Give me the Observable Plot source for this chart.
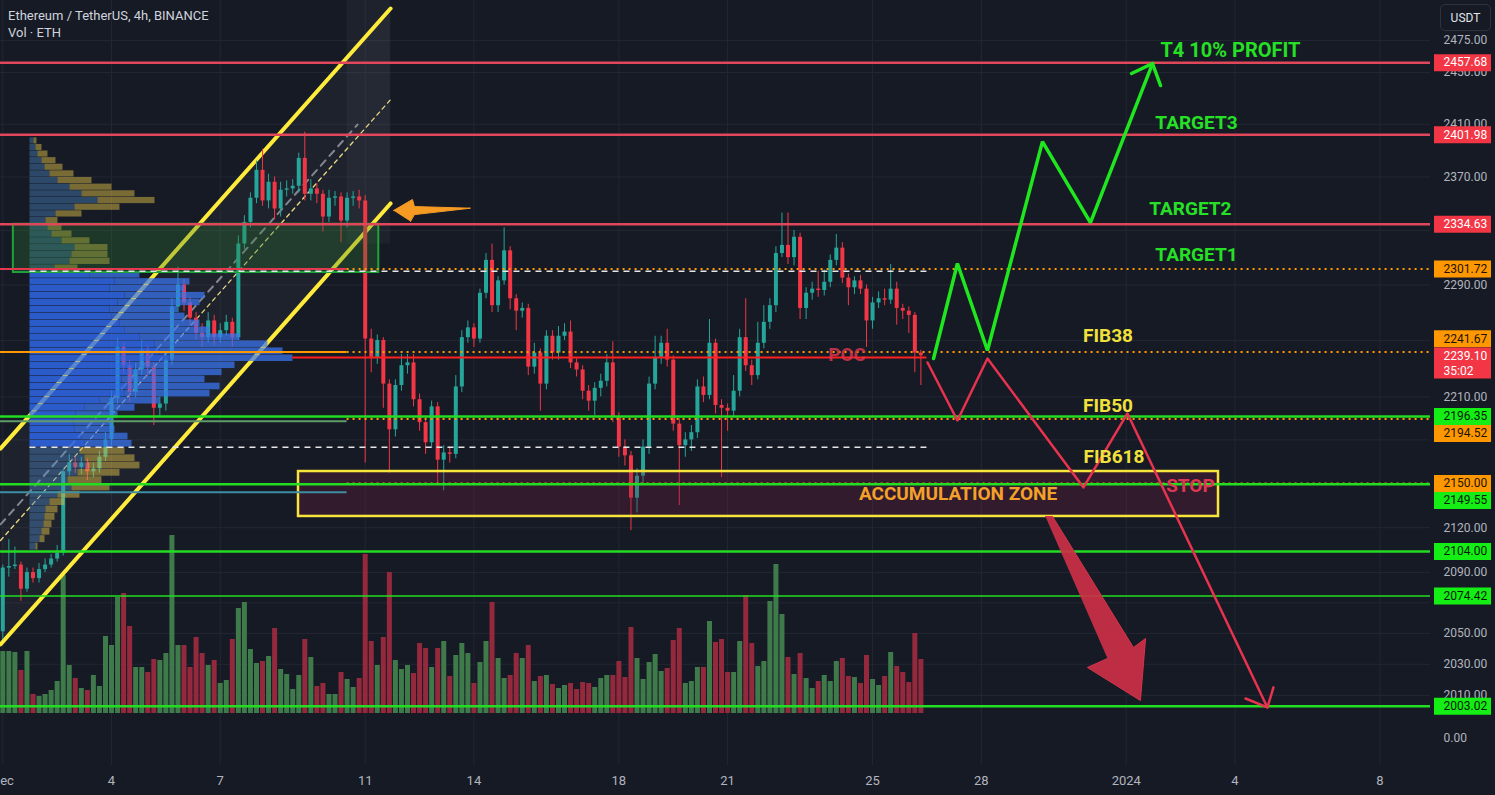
<!DOCTYPE html>
<html>
<head>
<meta charset="utf-8">
<script src="https://cdn.jsdelivr.net/npm/d3@7"></script>
<script src="https://cdn.jsdelivr.net/npm/@observablehq/plot@0.6"></script>
<style>
  html, body { margin: 0; padding: 0; background: #161a25; }
  #chart { position: relative; width: 1495px; height: 795px; background: #161a25; overflow: hidden; font-family: Roboto, "Noto Sans", sans-serif; }
  #chart svg { position: absolute; left: 0; top: 0; }
  .legend { position: absolute; left: 8px; color: #d1d4dc; font-size: 13px; white-space: nowrap; z-index: 10; }
  .usdt { position: absolute; left: 1440px; top: 4px; width: 51px; height: 27px; box-sizing: border-box; border: 1px solid #2e323d; border-radius: 5px; color: #e1e3ea; font-size: 12px; display: flex; align-items: center; justify-content: center; background: #161a25; z-index: 10; }
</style>
</head>
<body>
<div id="chart"></div>
<script>
// ---------------- DATA ----------------
const firstBarTime = "2023-12-01T00:00Z";   // 4h candles
const firstOpen = 2051;
const candleClose = [
2093,2094,2095,2079,2090,2086,2092,2095,2099,2103,
2158,2164,2161,2164,2158,2160,2168,2180,2209,2245,
2232,2213,2229,2243,2231,2202,2205,2236,2274,2290,
2277,2266,2255,2252,2264,2252,2257,2263,2252,2320,
2336,2354,2375,2352,2366,2346,2360,2361,2363,2384,
2357,2361,2357,2340,2354,2355,2337,2354,2355,2352,
2251,2238,2250,2219,2187,2218,2232,2234,2208,2192,
2178,2203,2166,2171,2170,2217,2252,2259,2251,2284,
2308,2275,2293,2315,2280,2271,2273,2231,2241,2219,
2253,2241,2253,2256,2234,2229,2214,2207,2216,2221,
2234,2196,2175,2169,2140,2155,2175,2219,2238,2248,
2236,2191,2176,2180,2185,2217,2211,2248,2204,2202,
2200,2214,2252,2232,2225,2248,2263,2275,2313,2319,
2310,2325,2273,2284,2287,2286,2292,2308,2317,2295,
2288,2293,2287,2264,2277,2280,2279,2287,2273,2271,
2268,2241,2239.10];
const candleHigh = [
2095,2112,2107,2097,2093,2093,2096,2099,2102,2108,
2160,2170,2168,2168,2167,2164,2172,2185,2214,2252,
2248,2236,2234,2250,2246,2234,2210,2240,2280,2303,
2294,2281,2270,2262,2270,2268,2262,2268,2266,2326,
2341,2358,2382,2391,2372,2370,2366,2367,2368,2388,
2404,2368,2365,2360,2360,2359,2358,2358,2359,2360,
2356,2258,2254,2252,2222,2222,2240,2240,2240,2212,
2196,2207,2206,2176,2175,2225,2257,2264,2262,2287,
2313,2320,2296,2332,2318,2283,2277,2276,2248,2244,
2257,2257,2260,2262,2264,2237,2232,2218,2220,2226,
2240,2249,2199,2180,2172,2160,2180,2224,2253,2253,
2258,2239,2195,2185,2190,2222,2224,2265,2251,2208,
2205,2225,2258,2280,2236,2263,2275,2280,2318,2343,
2343,2330,2328,2288,2292,2300,2301,2312,2327,2321,
2298,2296,2297,2290,2281,2285,2287,2305,2292,2276,
2274,2270,2243];
const candleLow = [
2046,2087,2092,2071,2077,2083,2083,2090,2093,2097,
2101,2155,2157,2156,2152,2154,2157,2165,2176,2205,
2226,2206,2209,2225,2224,2190,2196,2200,2232,2270,
2271,2260,2250,2245,2248,2246,2248,2253,2245,2250,
2316,2332,2350,2348,2346,2338,2340,2355,2357,2358,
2352,2352,2350,2329,2336,2348,2321,2332,2348,2346,
2164,2227,2233,2202,2157,2182,2214,2226,2203,2186,
2170,2174,2149,2145,2164,2167,2213,2248,2245,2248,
2280,2270,2270,2290,2272,2257,2266,2225,2226,2200,
2215,2236,2236,2250,2230,2224,2208,2200,2197,2210,
2217,2192,2168,2162,2118,2130,2150,2170,2215,2233,
2231,2186,2135,2168,2172,2181,2206,2208,2198,2154,
2186,2196,2210,2228,2218,2222,2244,2258,2270,2310,
2305,2304,2265,2265,2279,2281,2282,2288,2304,2291,
2275,2283,2283,2245,2258,2273,2275,2276,2261,2265,
2255,2227,2218];
const volumeK = [
62,62,61,43,62,19,17,19,23,32,
138,48,35,25,23,38,27,77,68,116,
120,87,46,46,41,54,53,60,178,68,
68,46,76,60,48,53,30,33,74,105,
111,64,50,52,57,85,44,39,24,38,
74,56,27,30,19,19,41,34,26,35,
159,72,48,76,141,53,44,48,40,70,
65,46,65,72,37,58,70,60,30,51,
72,111,55,35,38,60,55,68,32,37,
38,29,25,28,30,24,31,30,26,35,
38,38,52,36,86,55,34,51,59,42,
45,73,85,30,32,46,46,92,71,74,
41,41,72,118,70,47,52,112,149,99,
56,39,60,35,25,32,38,32,52,55,
37,36,30,58,34,28,37,61,47,41,
31,80,54];

// volume profile (fixed range), rows of 5 USDT
const profileRowLow = [2395,2390,2385,2380,2375,2370,2365,2360,2355,2350,2345,2340,2335,2330,2325,2320,2315,2310,2305,2300,
 2295,2290,2285,2280,2275,2270,2265,2260,2255,2250,2245,2240,2235,2230,2225,2220,2215,2210,2205,2200,
 2195,2190,2185,2180,2175,2170,2165,2160,2155,2150,2145,2140,2135,2130,2125,2120,2115,2110,2105];
const profileTotal = [7,12,18,26,33,44,62,82,105,125,90,52,28,32,42,60,78,78,80,48,
 110,160,155,175,170,148,155,170,180,210,238,253,263,205,192,175,190,180,130,105,
 88,83,85,98,102,95,105,110,90,72,80,50,35,28,25,22,20,15,8];
const profileUp = [4,6,8,12,15,20,28,40,52,68,45,26,16,18,22,32,45,42,40,25,
 60,85,80,95,88,80,82,90,95,110,125,130,140,105,100,92,98,95,70,55,
 46,44,45,52,55,50,55,58,48,38,42,28,20,16,15,14,12,10,6];
const profileStep = 5;
const profileStart = "2023-12-01T18:00Z";
const profileEnd = "2023-12-26T12:00Z";
const valueAreaHigh = 2300, valueAreaLow = 2175, pocPrice = 2237.8;

// horizontal levels
const redLevels = [2457.68, 2401.98, 2334.63];
const greenLevels = [2196.35, 2149.55, 2104.00, 2003.02];
const thinGreenLevels = [2074.42];
const orangeDottedLevels = [2301.72, 2241.67, 2194.52, 2150.00];
const rangeLevelPrices = [2301.72, 2241.67, 2193.0, 2144.0];
const rangeLevelKinds = ["red", "orange", "grayGreen", "teal"];
const rangeLevelEnd = "2023-12-10T12:00Z";
const axisStart = "2023-11-30T22:28Z";
const bandTimes = ["2023-12-10T12:00Z", "2023-12-11T16:48Z"];
const bandPrices = [2320, 2506.7];

// boxes
const greenBox = {t1: "2023-12-01T07:00Z", t2: "2023-12-11T09:00Z", p1: 2334.63, p2: 2299.1};
const accumulationZone = {t1: "2023-12-09T03:50Z", t2: "2024-01-03T13:06Z", p1: 2158.2, p2: 2127.6};

// channel
const channelTimes = ["2023-11-30T22:28Z", "2023-12-11T16:48Z"];
const channelUpper = [2174.0, 2500.3];
const channelLower = [2042.8, 2350.1];
const channelMidTimes = ["2023-11-30T22:28Z", "2023-12-11T16:48Z"];
const channelMid = [2111.4, 2429.0];
const grayDashTimes = ["2023-11-30T22:28Z", "2023-12-10T18:54Z"];
const grayDash = [2122.2, 2409.8];

// projections
const greenPathTimes = ["2023-12-26T16:24Z","2023-12-27T08:12Z","2023-12-28T04:06Z","2023-12-29T16:30Z","2023-12-31T00:18Z","2024-01-01T17:24Z"];
const greenPathPrices = [2237.1, 2305.7, 2242.8, 2396.8, 2335.9, 2457.0];
const greenHeadTimes = ["2024-01-01T03:30Z","2024-01-01T17:24Z","2024-01-01T22:42Z"];
const greenHeadPrices = [2449.2, 2457.0, 2439.9];
const redPathTimes = ["2023-12-26T12:24Z","2023-12-27T08:12Z","2023-12-28T04:06Z","2023-12-30T19:42Z","2024-01-01T00:48Z","2024-01-04T21:30Z"];
const redPathPrices = [2234.3, 2193.5, 2237.1, 2147.3, 2198.4, 2002.3];
const redHeadTimes = ["2024-01-04T07:00Z","2024-01-04T21:30Z","2024-01-05T01:30Z"];
const redHeadPrices = [2008.0, 2002.3, 2015.1];
const bigArrowTimes = ["2023-12-29T18:30Z","2023-12-29T23:12Z","2024-01-01T04:48Z","2024-01-01T12:48Z","2024-01-01T09:24Z","2023-12-30T22:18Z","2023-12-31T11:36Z"];
const bigArrowPrices = [2127.6, 2127.6, 2040.8, 2046.7, 2006.7, 2027.9, 2033.7];
const orangeArrowTimes = ["2023-12-11T18:42Z","2023-12-12T07:18Z","2023-12-12T08:36Z","2023-12-13T21:42Z","2023-12-12T08:36Z","2023-12-12T06:00Z"];
const orangeArrowPrices = [2344.8, 2353.1, 2347.8, 2346.6, 2341.8, 2336.7];

// annotations
const noteTexts = ["T4 10% PROFIT","TARGET3","TARGET2","TARGET1","FIB38","FIB50","FIB618","ACCUMULATION ZONE","STOP","POC"];
const noteTimes = ["2024-01-03T21:00Z","2024-01-02T22:30Z","2024-01-02T18:30Z","2024-01-02T22:30Z","2023-12-31T11:54Z","2023-12-31T11:54Z","2023-12-31T15:54Z","2023-12-27T08:36Z","2024-01-02T18:30Z","2023-12-24T07:06Z"];
const notePrices = [2467.5, 2411.0, 2346.0, 2311.9, 2253.2, 2204.0, 2168.5, 2142.8, 2148.3, 2239.6];
const noteKinds = ["target","target","target","target","fib","fib","fib","zone","stop","poc"];

// axes
const gridTicks = [2475, 2450, 2410, 2370, 2330, 2290, 2250, 2210, 2180, 2150, 2120, 2090, 2070, 2050, 2030, 2010];
const yTickLabelsShown = [2475, 2450, 2410, 2370, 2290, 2210, 2120, 2090, 2050, 2030, 2010];
const xTickTimes = ["2023-12-01","2023-12-04","2023-12-07","2023-12-11","2023-12-14","2023-12-18","2023-12-21","2023-12-25","2023-12-28","2024-01-01","2024-01-04","2024-01-08"];
const xTickLabels = ["Dec","4","7","11","14","18","21","25","28","2024","4","8"];

// price tags on the scale
const tagPrices = [2457.68, 2401.98, 2334.63, 2301.72, 2196.35, 2150.00, 2104.00, 2074.42, 2003.02, 2241.67, 2194.52, 2149.55];
const tagKinds = ["red","red","red","orange","green","orange","green","green","green","orange","orange","green"];
const lastPrice = 2239.10;
const barCountdown = "35:02";

// ---------------- STYLE / SCALES ----------------
const W = 1495, H = 795, MR = 65, MB = 30;
const BAR_MS = 4 * 3600e3, PX_PER_BAR = 6.04;
const t0 = Date.parse(firstBarTime);
const msPerPx = BAR_MS / PX_PER_BAR;
const xDomain = [new Date(t0 - 2.3 * msPerPx), new Date(t0 + (W - MR - 2.3) * msPerPx)];
const yDomain = [1965.7, 2506.7];
const FONT = "Roboto, 'Noto Sans', sans-serif";
const UP = "#26a69a", DOWN = "#f23645";
const VUP = "#3f7a4b", VDOWN = "#94293e";
const GREEN = "#22dd22", RED_LINE = "#e0475a", ORANGE = "#ff9800";
const D = s => new Date(s);

const ys = Plot.scale({y: {type: "log", domain: yDomain, range: [H - MB, 0]}});
const xs = Plot.scale({x: {type: "utc", domain: xDomain, range: [0, W - MR]}});

function base(extra = {}) {
  return Object.assign({
    width: W, height: H, marginLeft: 0, marginRight: MR, marginTop: 0, marginBottom: MB,
    x: {type: "utc", domain: xDomain, axis: null},
    y: {type: "log", domain: yDomain, axis: null},
    color: {type: "identity"},
    style: {background: "transparent", overflow: "visible", fontFamily: FONT}
  }, extra);
}

const bars = candleClose.map((c, i) => ({
  t: new Date(t0 + i * BAR_MS), o: i ? candleClose[i - 1] : firstOpen, c,
  h: candleHigh[i], l: candleLow[i], v: volumeK[i]
}));
const pts = (ts, ps) => ts.map((t, i) => ({t: D(t), p: ps[i]}));

const chart = document.getElementById("chart");

// L0: grid + channel fill
const channelPoly = [
  {t: D(channelTimes[0]), p: channelUpper[0]}, {t: D(channelTimes[1]), p: channelUpper[1]},
  {t: D(channelTimes[1]), p: channelLower[1]}, {t: D(channelTimes[0]), p: channelLower[0]}
];
chart.append(Plot.plot(base({
  marks: [
    Plot.gridY({ticks: gridTicks, stroke: "#232733", strokeOpacity: 1}),
    Plot.gridX({ticks: xTickTimes.map(D), stroke: "#232733", strokeOpacity: 1}),
    Plot.rect([0], {x1: D(bandTimes[0]), x2: D(bandTimes[1]), y1: bandPrices[0], y2: bandPrices[1], fill: "#8a8fa0", fillOpacity: 0.07}),
    Plot.line(channelPoly, {x: "t", y: "p", fill: "#8a8fa0", fillOpacity: 0.07, stroke: "none"})
  ]
})));

// L1: volume
chart.append(Plot.plot(Object.assign(base(), {
  marginTop: 513, marginBottom: 82,
  y: {type: "linear", domain: [0, 200], axis: null},
  marks: [
    Plot.ruleX(bars, {x: "t", y1: 0, y2: "v", stroke: d => d.c >= d.o ? VUP : VDOWN, strokeWidth: 5})
  ]
})));

// L2: channel lines + candles
chart.append(Plot.plot(base({
  marks: [
    Plot.line(pts(grayDashTimes, grayDash), {x: "t", y: "p", stroke: "#9ca0aa", strokeWidth: 2, strokeDasharray: "7,6", strokeOpacity: 0.8}),
    Plot.line(pts(channelMidTimes, channelMid), {x: "t", y: "p", stroke: "#e8d980", strokeWidth: 1.3, strokeDasharray: "4,4"}),
    Plot.line(pts(channelTimes, channelUpper), {x: "t", y: "p", stroke: "#ffeb3b", strokeWidth: 4}),
    Plot.line(pts(channelTimes, channelLower), {x: "t", y: "p", stroke: "#ffeb3b", strokeWidth: 4}),
    Plot.ruleX(bars, {x: "t", y1: "l", y2: "h", stroke: d => d.c >= d.o ? UP : DOWN, strokeWidth: 1}),
    Plot.ruleX(bars, {x: "t", y1: "o", y2: "c", stroke: d => d.c >= d.o ? UP : DOWN, strokeWidth: 4})
  ]
})));

// L3: volume profile
const px0 = xs.apply(D(profileStart));
const profileRows = profileRowLow.map((lo, i) => ({
  lo, hi: lo + profileStep, up: profileUp[i], total: profileTotal[i],
  va: lo >= valueAreaLow && lo < valueAreaHigh
}));
chart.append(Plot.plot(Object.assign(base(), {
  x: {type: "linear", domain: [0, 300], range: [px0, px0 + 300], axis: null},
  marks: [
    Plot.rect(profileRows, {x1: 0, x2: "up", y1: "lo", y2: "hi", insetTop: 0.5,
      fill: d => d.va ? "#2f6cf2" : "#4f8ac8", fillOpacity: d => d.va ? 0.8 : 0.42}),
    Plot.rect(profileRows, {x1: "up", x2: "total", y1: "lo", y2: "hi", insetTop: 0.5,
      fill: d => d.va ? "#3a76f4" : "#dcbb48", fillOpacity: d => d.va ? 0.72 : 0.5})
  ]
})));

// L4: drawings, annotations, axes
const rangeColors = {red: "#e5394f", orange: ORANGE, grayGreen: "#5f9a68", teal: "#3f8fa3"};
const noteColors = {target: "#25e025", fib: "#f0e13c", zone: "#f4a12a", stop: "#de3852", poc: "#d8364e"};
const xTickMap = new Map(xTickTimes.map((t, i) => [+D(t), xTickLabels[i]]));
const notes = noteTexts.map((s, i) => ({s, t: D(noteTimes[i]), p: notePrices[i], k: noteKinds[i]}));

chart.append(Plot.plot(base({
  y: {type: "log", domain: yDomain},
  x: {type: "utc", domain: xDomain},
  marks: [
    Plot.rect([accumulationZone], {x1: d => D(d.t1), x2: d => D(d.t2), y1: "p1", y2: "p2",
      fill: "#7a2244", fillOpacity: 0.28, stroke: "#f7e43c", strokeWidth: 2.5}),
    Plot.rect([greenBox], {x1: d => D(d.t1), x2: d => D(d.t2), y1: "p1", y2: "p2",
      fill: "#2e7d32", fillOpacity: 0.3, stroke: "#1fa33a", strokeWidth: 2}),
    Plot.ruleY(rangeLevelPrices.map((p, i) => ({p, k: rangeLevelKinds[i]})), {y: "p", x1: D(axisStart), x2: D(rangeLevelEnd),
      stroke: d => rangeColors[d.k], strokeWidth: 2}),
    Plot.ruleY(orangeDottedLevels, {x1: D(rangeLevelEnd), x2: xDomain[1], stroke: ORANGE, strokeWidth: 2, strokeDasharray: "2,4"}),
    Plot.ruleY([valueAreaHigh, valueAreaLow], {x1: D(profileStart), x2: D(profileEnd), stroke: "#e6e6e6", strokeWidth: 1.5, strokeDasharray: "6,5"}),
    Plot.ruleY([pocPrice], {x1: new Date(t0 + 48 * BAR_MS), x2: D(profileEnd), stroke: "#ff2020", strokeWidth: 2}),
    Plot.ruleY(redLevels, {stroke: RED_LINE, strokeWidth: 2.5}),
    Plot.ruleY(greenLevels, {stroke: GREEN, strokeWidth: 2.5}),
    Plot.ruleY(thinGreenLevels, {stroke: GREEN, strokeWidth: 1.5}),
    Plot.line(pts(orangeArrowTimes, orangeArrowPrices), {x: "t", y: "p", fill: "#f59a23", stroke: "#f59a23", strokeWidth: 1}),
    Plot.line(pts(bigArrowTimes, bigArrowPrices), {x: "t", y: "p", fill: "#cc2f47", fillOpacity: 0.92, stroke: "#d4344c", strokeWidth: 1}),
    Plot.line(pts(redPathTimes, redPathPrices), {x: "t", y: "p", stroke: "#e8334f", strokeWidth: 2.5}),
    Plot.line(pts(redHeadTimes, redHeadPrices), {x: "t", y: "p", stroke: "#e8334f", strokeWidth: 2.5}),
    Plot.line(pts(greenPathTimes, greenPathPrices), {x: "t", y: "p", stroke: "#1fe61f", strokeWidth: 3.5, strokeLinejoin: "miter"}),
    Plot.line(pts(greenHeadTimes, greenHeadPrices), {x: "t", y: "p", stroke: "#1fe61f", strokeWidth: 3.5}),
    Plot.text(notes.filter(d => d.s !== "T4 10% PROFIT"), {x: "t", y: "p", text: "s", fill: d => noteColors[d.k],
      fontSize: 19, fontWeight: "bold", fillOpacity: d => d.k === "poc" ? 0.85 : 1}),
    Plot.text(notes.filter(d => d.s === "T4 10% PROFIT"), {x: "t", y: "p", text: "s", fill: d => noteColors[d.k],
      fontSize: 20, fontWeight: "bold"}),
    Plot.axisY({ticks: yTickLabelsShown, anchor: "right", tickSize: 0, tickPadding: 13, tickFormat: d => d.toFixed(2),
      fontSize: 12, color: "#b2b5be", label: null}),
    Plot.axisX({ticks: xTickTimes.map(D), tickSize: 0, tickPadding: 10, tickFormat: d => xTickMap.get(+d),
      fontSize: 13, color: "#b2b5be", label: null})
  ]
})));

// L5: price tags on the scale
const tagStyle = {red: ["#f23645", "#ffffff"], orange: ["#ff9800", "#1b1300"], green: ["#14ee14", "#062006"]};
const yl = ys.apply(lastPrice);
const placed = [{anchor: yl, top: yl - 8.5, bottom: yl + 23}];
const tags = tagPrices.map((p, i) => ({p, k: tagKinds[i]}));
for (const tg of tags) {
  let c = ys.apply(tg.p);
  for (const q of placed) {
    if (c - 8.5 < q.bottom && c + 8.5 > q.top) {
      c = c < q.anchor ? q.top - 8.5 : q.bottom + 8.5;
    }
  }
  tg.cy = c;
  placed.push({anchor: ys.apply(tg.p), top: c - 8.5, bottom: c + 8.5});
}
chart.append(Plot.plot({
  width: W, height: H, marginLeft: 1434, marginRight: 4, marginTop: 0, marginBottom: MB,
  x: {domain: [0, 1], axis: null},
  y: {type: "log", domain: yDomain, axis: null},
  color: {type: "identity"},
  style: {background: "transparent", overflow: "visible", fontFamily: FONT},
  marks: [
    Plot.text(["0.00"], {frameAnchor: "bottom-left", dx: 9, dy: -24, textAnchor: "start", fill: "#b2b5be", fontSize: 12}),
    Plot.ruleY(tags, {y: d => ys.invert(d.cy), stroke: d => tagStyle[d.k][0], strokeWidth: 17}),
    Plot.text(tags, {x: 0, y: d => ys.invert(d.cy), text: d => d.p.toFixed(2), textAnchor: "start", dx: 9,
      fill: d => tagStyle[d.k][1], fontSize: 12}),
    Plot.ruleY([lastPrice], {y: ys.invert(yl + 7.25), stroke: "#f23645", strokeWidth: 31}),
    Plot.text([lastPrice], {x: 0, y: d => d, text: d => d.toFixed(2), textAnchor: "start", dx: 9, fill: "#ffffff", fontSize: 12}),
    Plot.text([barCountdown], {x: 0, y: ys.invert(yl + 15), text: d => d, textAnchor: "start", dx: 9, fill: "#ffffff", fontSize: 12})
  ]
}));

// legend / title overlays
const t1 = document.createElement("div"); t1.className = "legend"; t1.style.top = "8px";
t1.textContent = "Ethereum / TetherUS, 4h, BINANCE"; chart.append(t1);
const t2 = document.createElement("div"); t2.className = "legend"; t2.style.top = "25px";
t2.textContent = "Vol · ETH"; chart.append(t2);
const u = document.createElement("div"); u.className = "usdt"; u.textContent = "USDT"; chart.append(u);
</script>
</body>
</html>
